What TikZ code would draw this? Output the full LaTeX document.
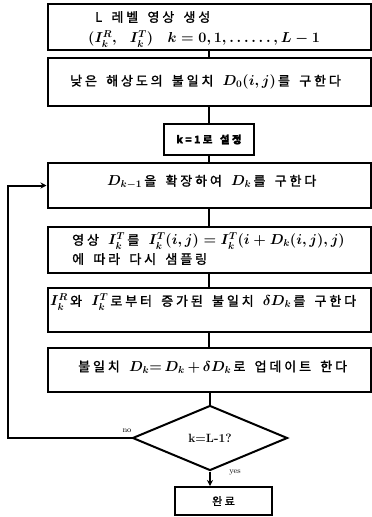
\documentclass[tikz,border=0pt]{standalone}
\usepackage{fontspec}
\usetikzlibrary{shapes.geometric,arrows.meta}
\newfontfamily\kr{Noto Sans CJK KR}[FakeBold=1.5,LetterSpace=22,WordSpace=1.6]
\newcommand{\mth}[1]{{\fontsize{14.5}{15}\selectfont$#1$}}
\begin{document}
\begin{tikzpicture}[x=1pt,y=-1pt,
  box/.style={draw,line width=2pt,minimum width=323pt,inner sep=0pt},
  txt/.style={anchor=west,inner sep=0pt,font=\kr\boldmath\fontsize{13}{15}\selectfont},
  conn/.style={line width=2pt},
  arr/.style={line width=2pt,-{Stealth[length=6pt,width=6pt]}}]
\useasboundingbox (0,0) rectangle (372,517);
\node[box,minimum height=46pt] (b1) at (209,27) {};
\node[box,minimum height=48pt] (b2) at (209,82) {};
\node[box,minimum height=31pt,minimum width=90pt,font=\kr\bfseries\fontsize{10.5}{12}\selectfont] (b3) at (209,139.5) {k=1로 설정};
\node[box,minimum height=45pt] (b4) at (209,185.5) {};
\node[box,minimum height=46pt] (b5) at (209,250) {};
\node[box,minimum height=44pt] (b6) at (209,310) {};
\node[box,minimum height=44pt] (b7) at (209,370) {};
\node[draw,diamond,line width=2pt,minimum width=155pt,minimum height=65pt,inner sep=0pt,font=\bfseries\fontsize{12}{14}\selectfont] (d) at (210,438) {k=L-1?};
\node[box,minimum width=97pt,minimum height=28pt,font=\kr\fontsize{11}{13}\selectfont] (fin) at (223.5,501) {완료};
% texts
\node[txt] (t1a) at (95,17) {L 레벨 영상 생성};
\node[txt] (t1b) at (88,39) {\mth{(I_k^R,\ I_k^T)\quad k=0,1,\ldots\ldots,L-1}};
\node[txt] (t2) at (70,82) {낮은 해상도의 불일치 \mth{D_0(i,j)}\,를 구한다};
\node[txt] (t4) at (107,182) {\mth{D_{k-1}}\,을 확장하여 \mth{D_k}\,를 구한다};
\node[txt] (t5a) at (72,241) {영상 \mth{I_k^T}\,를 \mth{I_k^T(i,j)=I_k^T(i+D_k(i,j),j)}};
\node[txt] (t5b) at (72,259) {에 따라 다시 샘플링};
\node[txt] (t6) at (50,302) {\mth{I_k^R}\,와 \mth{I_k^T}\,로부터 증가된 불일치 \mth{\delta D_k}\,를 구한다};
\node[txt] (t7) at (78,367) {불일치 \mth{D_k{=}\,D_k\,{+}\,\delta D_k}\,로 업데이트 한다};
\node[font=\fontsize{8}{9}\selectfont,inner sep=0pt] (no) at (127,431) {no};
\node[font=\fontsize{8}{9}\selectfont,inner sep=0pt] (yes) at (235,473) {yes};
% connectors
\draw[conn] (b1) -- (b2);
\draw[conn] (b2) -- (b3);
\draw[conn] (b3) -- (b4);
\draw[conn] (b4) -- (b5);
\draw[conn] (b5) -- (b6);
\draw[conn] (b6) -- (b7);
\draw[conn] (b7.south -| d.north) -- (d.north);
\draw[arr] (d.south) -- (d.south |- fin.north);
\coordinate (lc) at (8,438);
\draw[arr] (d.west) -- (lc) |- (b4.west);
\end{tikzpicture}
\end{document}
